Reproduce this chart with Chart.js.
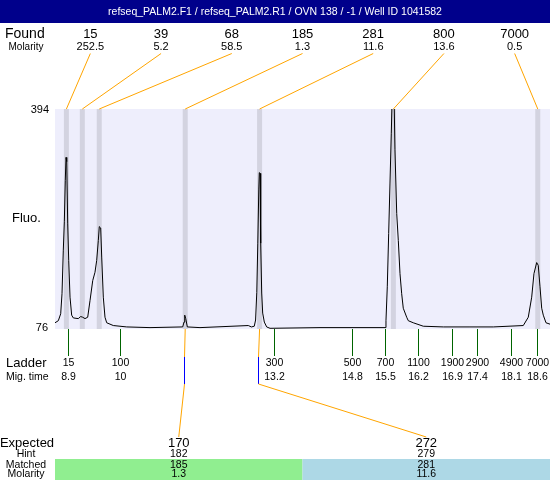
<!DOCTYPE html>
<html>
<head>
<meta charset="utf-8">
<script src="https://cdn.jsdelivr.net/npm/chart.js@4"></script>
<style>
  html, body { margin: 0; padding: 0; background: #fff; }
  canvas { display: block; }
</style>
</head>
<body>
<canvas id="chart" width="550" height="480"></canvas>
<script>
// run header
const title = 'refseq_PALM2.F1 / refseq_PALM2.R1 / OVN 138 / -1 / Well ID 1041582';

// found peaks (size bp, molarity, migration time in s)
const foundSizes = [15, 39, 68, 185, 281, 800, 7000];
const foundMolarity = ['252.5', '5.2', '58.5', '1.3', '11.6', '13.6', '0.5'];
const foundTimes = [8.89, 9.22, 9.57, 11.35, 12.89, 15.66, 18.65];

// ladder
const ladderSizes = [15, 100, 300, 500, 700, 1100, 1900, 2900, 4900, 7000];
const ladderTimes = [8.92, 10.01, 13.19, 14.80, 15.49, 16.18, 16.88, 17.40, 18.10, 18.64];

// expected table
const expectedSizes = [170, 272];
const hintSizes = [182, 279];
const matchedSizes = [185, 281];
const matchedMolarity = ['1.3', '11.6'];

// fluorescence axis
const yTicks = [76, 394];

// electropherogram trace
const traceTimes = [
  8.654, 8.723, 8.772, 8.799, 8.826, 8.847, 8.867, 8.882, 8.897, 8.917,
  8.938, 8.965, 8.999, 9.033, 9.136, 9.186, 9.228, 9.275, 9.331, 9.379,
  9.435, 9.482, 9.517, 9.551, 9.571, 9.600, 9.621, 9.654, 9.689, 9.725,
  9.861, 10.139, 10.621, 11.298, 11.325, 11.340, 11.361, 11.394, 11.656, 12.656,
  12.720, 12.780, 12.807, 12.832, 12.853, 12.873, 12.884, 12.899, 12.913, 12.934,
  12.954, 12.988, 13.037, 13.106, 14.141, 15.487, 15.507, 15.534, 15.563, 15.590,
  15.617, 15.638, 15.673, 15.693, 15.729, 15.762, 15.797, 15.832, 15.865, 15.936,
  15.969, 16.072, 16.280, 16.694, 17.246, 17.729, 18.350, 18.453, 18.524, 18.571,
  18.627, 18.660, 18.696, 18.731, 18.764, 18.820, 18.903
];
const traceFluo = [
  85, 88, 98, 127, 190, 231, 291, 324, 318, 229,
  175, 122, 96, 92, 91, 94, 93, 91, 93, 117,
  146, 158, 175, 204, 224, 222, 180, 122, 93, 85,
  81, 79, 78, 79, 86, 96, 91, 79, 78, 81,
  79, 80, 89, 129, 200, 277, 302, 301, 200, 128,
  99, 86, 79, 77, 78, 78, 88, 137, 214, 287,
  359, 420, 420, 335, 243, 204, 156, 127, 106, 93,
  88, 85, 80, 79, 79, 79, 81, 93, 122, 156,
  172, 168, 137, 106, 96, 85, 83
];

const FONT = '"Liberation Sans", Arial, sans-serif';

function text(ctx, s, x, y, size, align, color) {
  ctx.font = size + 'px ' + FONT;
  ctx.textAlign = align || 'center';
  ctx.textBaseline = 'middle';
  ctx.fillStyle = color || '#000';
  ctx.fillText(s, x, y);
}

function path(ctx, color, pts) {
  ctx.strokeStyle = color;
  ctx.lineWidth = 1;
  ctx.beginPath();
  pts.forEach((p, i) => i ? ctx.lineTo(p[0], p[1]) : ctx.moveTo(p[0], p[1]));
  ctx.stroke();
}

const fmtTime = t => String(parseFloat(t.toFixed(1)));

const overlay = {
  id: 'overlay',
  beforeDraw(chart) {
    const { ctx, chartArea: a, scales: { x } } = chart;
    ctx.save();
    ctx.fillStyle = '#fff';
    ctx.fillRect(0, 0, chart.width, chart.height);
    ctx.fillStyle = '#EEEEFC';
    ctx.fillRect(a.left, a.top, a.right - a.left, a.bottom - a.top);
    // found peak bands
    ctx.fillStyle = '#D3D3E0';
    foundTimes.forEach(t => {
      const px = x.getPixelForValue(t);
      ctx.fillRect(px - 2.5, a.top, 5, a.bottom - a.top);
    });
    ctx.restore();
  },
  afterDraw(chart) {
    const { ctx, chartArea: a, scales: { x, y } } = chart;
    const w = a.right - a.left;
    ctx.save();

    // header
    ctx.fillStyle = '#00008B';
    ctx.fillRect(0, 0, chart.width, 23);
    text(ctx, title, chart.width / 2, 12, 10.5, 'center', '#fff');

    // found row
    text(ctx, 'Found', 5, 34, 14, 'left');
    text(ctx, 'Molarity', 26, 47, 10, 'center');
    const colF = w / foundSizes.length;
    foundSizes.forEach((s, i) => {
      const cx = a.left + (i + 0.5) * colF;
      text(ctx, String(s), cx, 34, 13);
      text(ctx, foundMolarity[i], cx, 47, 11);
      path(ctx, '#FFA500', [[cx, 53.5], [x.getPixelForValue(foundTimes[i]), a.top]]);
    });

    // y axis labels
    text(ctx, String(yTicks[1]), 49, y.getPixelForValue(yTicks[1]) + 1, 11, 'right');
    text(ctx, String(yTicks[0]), 48, y.getPixelForValue(yTicks[0]) - 1, 11, 'right');
    text(ctx, 'Fluo.', 12, 218, 13, 'left');

    // ladder axis
    text(ctx, 'Ladder', 6, 363, 13, 'left');
    text(ctx, 'Mig. time', 6, 377, 10.5, 'left');
    ladderSizes.forEach((s, i) => {
      const px = Math.round(x.getPixelForValue(ladderTimes[i])) + 0.5;
      path(ctx, '#006400', [[px, a.bottom], [px, a.bottom + 27]]);
      text(ctx, String(s), px, 363, 10.5);
      text(ctx, fmtTime(ladderTimes[i]), px, 377, 10.5);
    });

    // expected table
    const colE = w / expectedSizes.length;
    ctx.fillStyle = '#90EE90';
    ctx.fillRect(a.left, 459, colE, 21);
    ctx.fillStyle = '#ADD8E6';
    ctx.fillRect(a.left + colE, 459, colE, 21);
    text(ctx, 'Expected', 27, 443, 13);
    text(ctx, 'Hint', 26, 454, 10.5);
    text(ctx, 'Matched', 26, 465, 10.5);
    text(ctx, 'Molarity', 26, 474.5, 10.5);
    expectedSizes.forEach((s, i) => {
      const cx = a.left + (i + 0.5) * colE;
      text(ctx, String(s), cx, 443, 13);
      text(ctx, String(hintSizes[i]), cx, 454, 10.5);
      text(ctx, String(matchedSizes[i]), cx, 465, 10.5);
      text(ctx, matchedMolarity[i], cx, 474.5, 10.5);
      const k = foundSizes.indexOf(matchedSizes[i]);
      const pk = x.getPixelForValue(foundTimes[k]);
      const px = Math.round(pk - 1.5) + 0.5;
      path(ctx, '#FFA500', [[pk, a.bottom], [px, 357]]);
      path(ctx, '#0000FF', [[px, 357], [px, 384]]);
      path(ctx, '#FFA500', [[px, 384], [cx, 437]]);
    });

    ctx.restore();
  }
};

new Chart(document.getElementById('chart'), {
  type: 'line',
  data: {
    datasets: [{
      data: traceTimes.map((t, i) => ({ x: t, y: traceFluo[i] })),
      borderColor: '#000',
      borderWidth: 1,
      pointRadius: 0,
      tension: 0,
      fill: false
    }]
  },
  options: {
    responsive: false,
    animation: false,
    events: [],
    layout: { padding: { left: 55, right: 0, top: 109, bottom: 151 } },
    plugins: {
      legend: { display: false },
      tooltip: { enabled: false }
    },
    scales: {
      x: { type: 'linear', min: 8.654, max: 18.903, display: false },
      y: { min: yTicks[0], max: yTicks[1], display: false }
    }
  },
  plugins: [overlay]
});
</script>
</body>
</html>
